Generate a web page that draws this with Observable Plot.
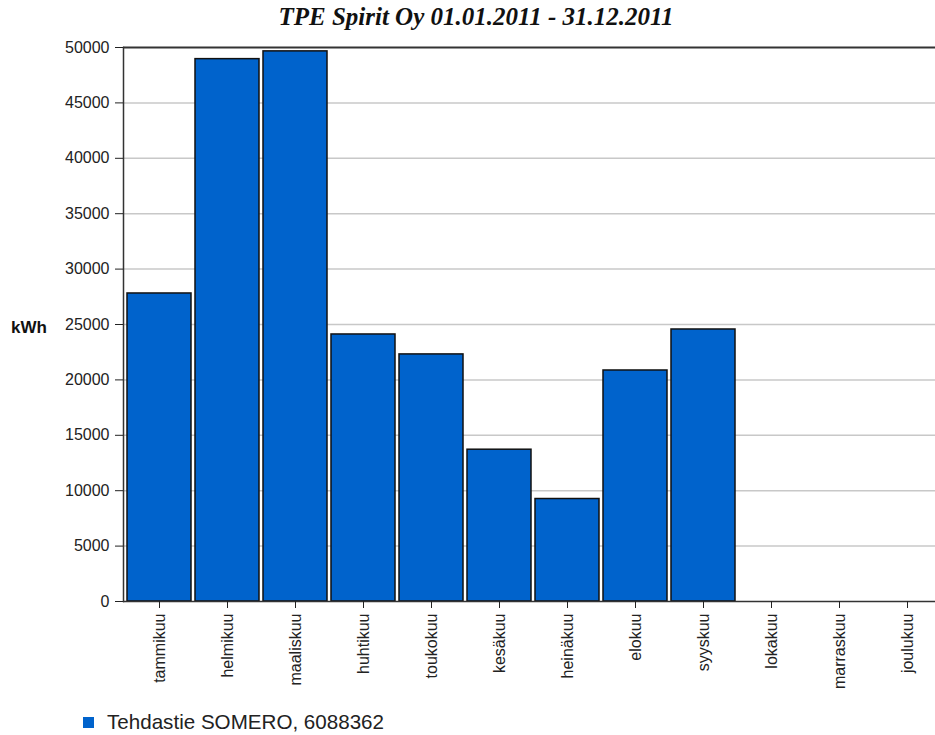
<!DOCTYPE html>
<html>
<head>
<meta charset="utf-8">
<script src="https://cdn.jsdelivr.net/npm/d3@7"></script>
<script src="https://cdn.jsdelivr.net/npm/@observablehq/plot@0.6"></script>
<style>
  html, body { margin: 0; padding: 0; background: #fff; overflow: hidden; width: 935px; height: 735px; }
  #wrap { position: relative; width: 935px; height: 735px; overflow: hidden; }
  #title { position: absolute; left: 0; top: 2px; width: 952px; text-align: center;
    font-family: "Liberation Serif", "Times New Roman", serif; font-style: italic; font-weight: bold;
    font-size: 25px; color: #111; line-height: 30px; }
  #chart { position: absolute; left: 0; top: 30px; width: 943px; }
  #chart svg { max-width: none !important; }
  #ylab { position: absolute; left: 11px; top: 318px; font-family: "Liberation Sans", Arial, sans-serif;
    font-weight: bold; font-size: 17px; color: #111; }
  #legend { position: absolute; left: 83px; top: 710px; font-family: "Liberation Sans", Arial, sans-serif;
    font-size: 20.6px; color: #222; display: flex; align-items: center; }
  #legend .sw { width: 11px; height: 11px; background: #0063CC; margin-right: 13px; }
</style>
</head>
<body>
<div id="wrap">
  <div id="title">TPE Spirit Oy 01.01.2011 - 31.12.2011</div>
  <div id="chart"></div>
  <div id="ylab">kWh</div>
  <div id="legend"><div class="sw"></div><span id="legtext"></span></div>
</div>
<script>
const months = ["tammikuu","helmikuu","maaliskuu","huhtikuu","toukokuu","kesäkuu","heinäkuu","elokuu","syyskuu","lokakuu","marraskuu","joulukuu"];
const values = [27800, 48950, 49650, 24100, 22300, 13700, 9250, 20850, 24550, 0, 0, 0];
const yTicks = [0, 5000, 10000, 15000, 20000, 25000, 30000, 35000, 40000, 45000, 50000];
const seriesName = "Tehdastie SOMERO, 6088362";

document.getElementById("legtext").textContent = seriesName;

const data = months.map((m, i) => ({month: m, value: values[i]}));

const chart = Plot.plot({
  width: 943,
  height: 675,
  marginTop: 17,
  marginBottom: 104,
  marginLeft: 123,
  marginRight: 0,
  style: {fontFamily: "Liberation Sans, Arial, sans-serif", fontSize: "16px", color: "#222", background: "#fff", maxWidth: "none"},
  x: {type: "band", domain: months, paddingInner: 0.06, paddingOuter: 0.03, label: null},
  y: {domain: [0, 50000], label: null},
  marks: [
    Plot.ruleY(yTicks.filter(t => t > 0 && t < 50000), {stroke: "#c8c8c8", strokeWidth: 1.5}),
    Plot.barY(data.filter(d => d.value > 0), {x: "month", y: "value", fill: "#0063CC", stroke: "#111", strokeWidth: 1.5}),
    Plot.ruleY([50000], {stroke: "#333", strokeWidth: 2}),
    Plot.ruleY([0], {stroke: "#333", strokeWidth: 1.5}),
    Plot.frame({anchor: "left", stroke: "#333", strokeWidth: 1.5}),
    Plot.axisY({ticks: yTicks, tickFormat: d3.format("d"), tickSize: 8, tickPadding: 6, label: null, fontSize: 16}),
    Plot.axisX({tickSize: 7, tickPadding: 5, tickRotate: -90, label: null, fontSize: 16})
  ]
});
document.getElementById("chart").appendChild(chart);
</script>
</body>
</html>
